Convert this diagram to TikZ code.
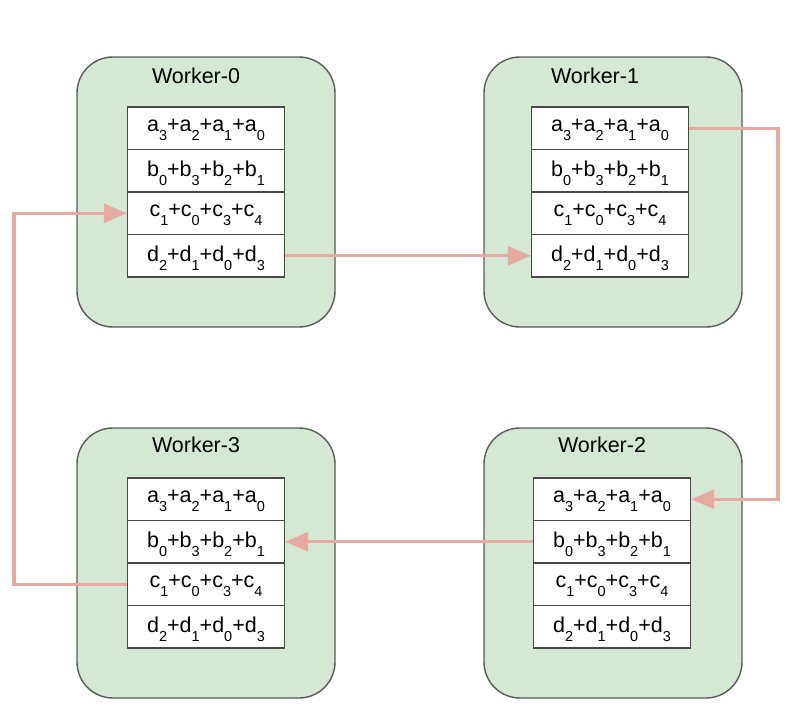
\documentclass[tikz,border=0pt]{standalone}
\usepackage{fontspec}
\setmainfont{Liberation Sans}
\usetikzlibrary{arrows.meta}
\definecolor{wfill}{HTML}{D5E8D4}
\definecolor{wdraw}{HTML}{5A5A5A}
\definecolor{arr}{HTML}{E6AAA2}
\newcommand\subx[1]{\raisebox{-0.42em}{\fontsize{14.5}{14.5}\selectfont #1}}
\newcommand\rowa{a\subx{3}+a\subx{2}+a\subx{1}+a\subx{0}}
\newcommand\rowb{b\subx{0}+b\subx{3}+b\subx{2}+b\subx{1}}
\newcommand\rowc{c\subx{1}+c\subx{0}+c\subx{3}+c\subx{4}}
\newcommand\rowd{d\subx{2}+d\subx{1}+d\subx{0}+d\subx{3}}
\tikzset{
  worker/.style={draw=wdraw, line width=1.4pt, fill=wfill, rounded corners=36pt,
    minimum width=258pt, minimum height=270pt, inner sep=0pt},
  wlabel/.style={font=\fontsize{21.5}{21.5}\selectfont, inner sep=0pt, anchor=base},
  cell/.style={draw=wdraw!80!black, line width=1.3pt, fill=white, minimum width=157pt,
    minimum height=42.5pt, inner sep=0pt, font=\fontsize{21.5}{21.5}\selectfont, text depth=5pt},
  flow/.style={draw=arr, line width=3.2pt, -{Triangle[length=23pt,width=19pt]}},
}
\begin{document}
\begin{tikzpicture}[x=1pt,y=-1pt]
\useasboundingbox (0,0) rectangle (800,718);
% workers
\node[worker] (W0) at (206,192) {};
\node[worker] (W1) at (613,192) {};
\node[worker] (W3) at (206,563) {};
\node[worker] (W2) at (613,563) {};
\node[wlabel] (L0) at (196,83) {Worker-0};
\node[wlabel] (L1) at (595,83) {Worker-1};
\node[wlabel] (L3) at (196,452) {Worker-3};
\node[wlabel] (L2) at (602,452) {Worker-2};
% tables
\foreach \w/\cx/\ty in {0/206/107, 1/610/107, 3/206/478, 2/612/478}{
  \node[cell] (w\w a) at (\cx,\ty+21.25) {\rowa};
  \node[cell] (w\w b) at (\cx,\ty+63.75) {\rowb};
  \node[cell] (w\w c) at (\cx,\ty+106.25) {\rowc};
  \node[cell] (w\w d) at (\cx,\ty+148.75) {\rowd};
}
\coordinate (rt) at (778,0);
\coordinate (lt) at (14,0);
% connectors
\draw[flow] (w0d.east) -- (w1d.west);
\draw[flow] (w1a.east) -- (w1a.east -| rt) |- (w2a.east);
\draw[flow] (w2b.west) -- (w3b.east);
\draw[flow] (w3c.west) -- (w3c.west -| lt) |- (w0c.west);
\end{tikzpicture}
\end{document}
